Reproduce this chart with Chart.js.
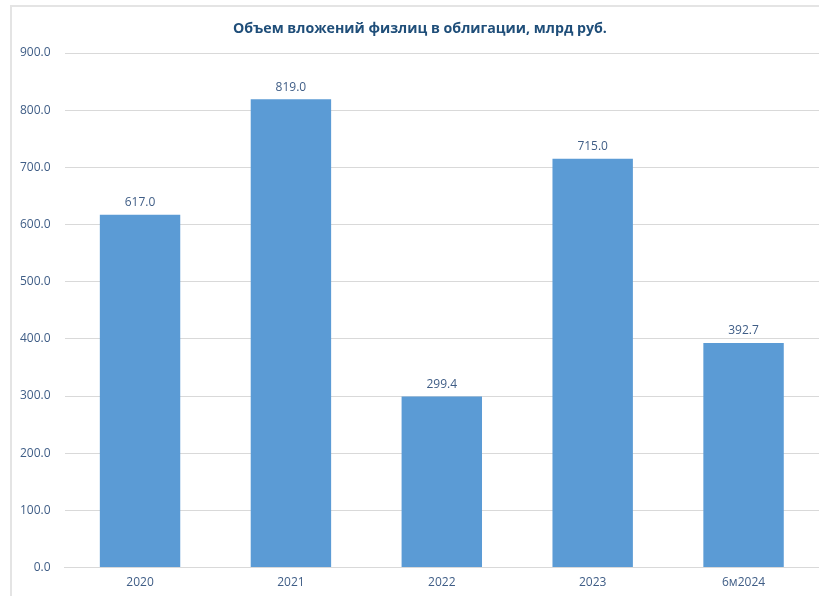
<!DOCTYPE html>
<html>
<head>
<meta charset="utf-8">
<script src="https://cdn.jsdelivr.net/npm/chart.js@4"></script>
<style>
  body { margin: 0; background: #fff; overflow: hidden; }
  #frame {
    position: absolute; left: 10px; top: 5px;
    width: 820px; height: 600px;
    border-left: 2px solid #e4e4e4; border-top: 2px solid #e4e4e4;
  }
  #chart { position: absolute; left: 6px; top: 0; }
</style>
</head>
<body>
<div id="frame"></div>
<canvas id="chart" width="813" height="600"></canvas>
<script>
const categories = ["2020", "2021", "2022", "2023", "6м2024"];
const values = [617.0, 819.0, 299.4, 715.0, 392.7];
const yTicks = [0, 100, 200, 300, 400, 500, 600, 700, 800, 900];
const chartTitle = "Объем вложений физлиц в облигации, млрд руб.";

const textColor = "#3f5d86";

// value above each bar + the title (centred on the whole frame, not the canvas)
const barLabels = {
  id: "barLabels",
  afterDatasetsDraw(chart) {
    const ctx = chart.ctx;
    const meta = chart.getDatasetMeta(0);
    ctx.save();
    ctx.font = "12px 'Open Sans'";
    ctx.fillStyle = textColor;
    ctx.textAlign = "center";
    ctx.textBaseline = "bottom";
    meta.data.forEach((bar, i) => {
      ctx.fillText(values[i].toFixed(1), bar.x, bar.y - 6);
    });

    ctx.font = "bold 14.2px 'Open Sans'";
    ctx.fillStyle = "#1f4e79";
    ctx.textBaseline = "middle";
    ctx.fillText(chartTitle, 414, 29);
    ctx.restore();
  }
};

new Chart(document.getElementById("chart"), {
  type: "bar",
  data: {
    labels: categories,
    datasets: [{
      data: values,
      backgroundColor: "#5b9bd5",
      barPercentage: 0.533,
      categoryPercentage: 1.0
    }]
  },
  options: {
    responsive: false,
    animation: false,
    layout: { padding: { left: 0, right: 0, top: 53, bottom: 10 } },
    plugins: {
      legend: { display: false },
      tooltip: { enabled: false },
      title: { display: false }
    },
    scales: {
      x: {
        grid: { display: false },
        border: { color: "#d9d9d9" },
        ticks: { color: textColor, font: { family: "Open Sans", size: 12 }, padding: 0 }
      },
      y: {
        min: 0,
        max: 900,
        afterBuildTicks: (axis) => { axis.ticks = yTicks.map(v => ({ value: v })); },
        grid: { color: "#d9d9d9", drawTicks: false },
        border: { display: false },
        ticks: {
          color: textColor,
          font: { family: "Open Sans", size: 12 },
          padding: 14,
          callback: (v) => Number(v).toFixed(1)
        }
      }
    }
  },
  plugins: [barLabels]
});
</script>
</body>
</html>
